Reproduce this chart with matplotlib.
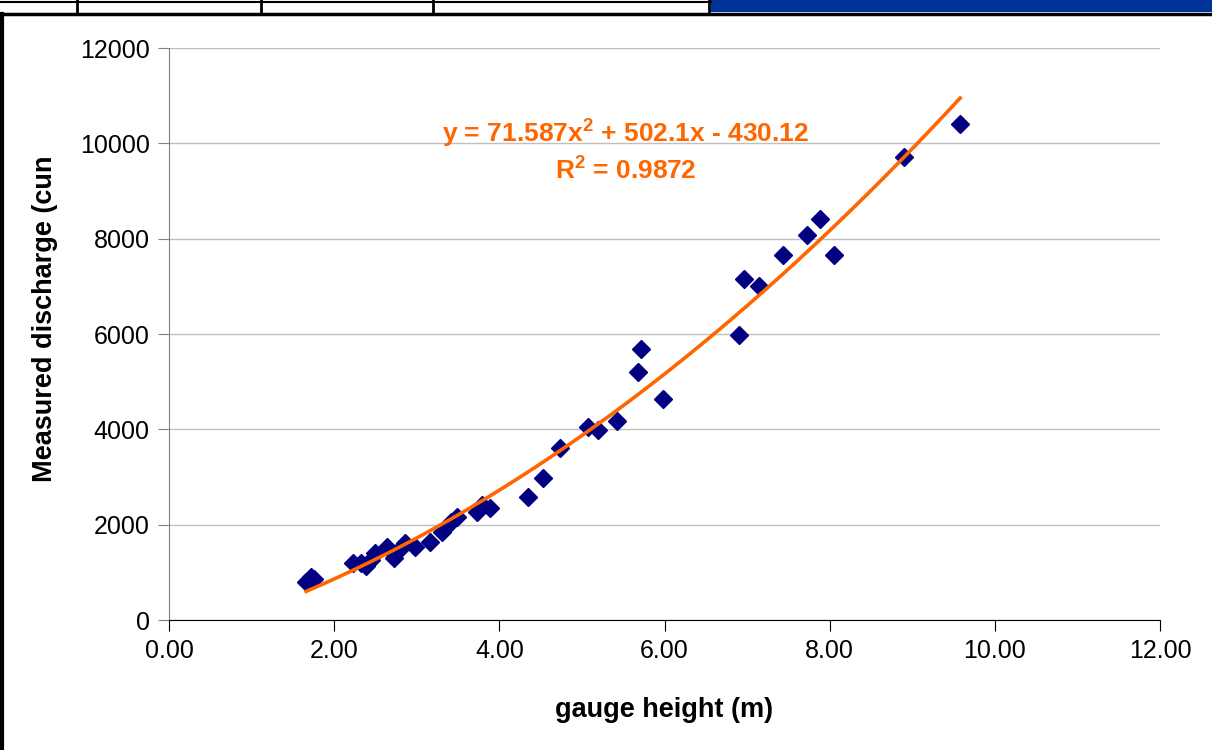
"""Rating curve: measured discharge vs gauge height with quadratic trendline."""
import matplotlib
matplotlib.use("Agg")
import matplotlib.pyplot as plt
import numpy as np
from matplotlib.lines import Line2D
from matplotlib.patches import Rectangle

gauge_height = [1.66, 1.72, 1.75, 2.23, 2.32, 2.38, 2.44, 2.50, 2.64, 2.72, 2.78,
                2.86, 2.98, 3.16, 3.31, 3.41, 3.49, 3.73, 3.79, 3.89, 4.35, 4.53,
                4.73, 5.07, 5.19, 5.42, 5.68, 5.71, 5.98, 6.90, 6.96, 7.15, 7.44,
                7.73, 7.88, 8.05, 8.90, 9.58]
discharge = [800, 900, 850, 1196, 1196, 1133, 1259, 1405, 1531, 1300, 1468,
             1615, 1531, 1636, 1846, 2056, 2161, 2266, 2420, 2350, 2580, 2979,
             3608, 4049, 3986, 4175, 5202, 5685, 4636, 5979, 7153, 7006, 7657,
             8076, 8412, 7657, 9713, 10405]

trend_coef = [71.587, 502.1, -430.12]
r_squared = 0.9872

x_ticks = [0, 2, 4, 6, 8, 10, 12]
y_ticks = [0, 2000, 4000, 6000, 8000, 10000, 12000]

NAVY = "#000080"
ORANGE = "#FF6600"

plt.rcParams["font.family"] = ["Liberation Sans", "DejaVu Sans"]
plt.rcParams["mathtext.fontset"] = "custom"
plt.rcParams["mathtext.bf"] = "Liberation Sans:bold"
plt.rcParams["mathtext.rm"] = "Liberation Sans:bold"

fig = plt.figure(figsize=(12.12, 7.5), dpi=100)
ax = fig.add_axes([169 / 1212, 1 - 620 / 750, (1160 - 169) / 1212, (620 - 48) / 750])

xs = np.linspace(min(gauge_height), max(gauge_height), 200)
ax.plot(xs, np.polyval(trend_coef, xs), color=ORANGE, linewidth=2.6, zorder=3)
ax.plot(gauge_height, discharge, linestyle="none", marker="D", markersize=9.5,
        color=NAVY, markeredgecolor=NAVY, zorder=2)

ax.set_xlim(0, 12)
ax.set_ylim(0, 12000)
ax.set_xticks(x_ticks)
ax.set_xticklabels([f"{v:.2f}" for v in x_ticks])
ax.set_yticks(y_ticks)
ax.grid(axis="y", color="#C0C0C0", linewidth=1.0)
ax.set_axisbelow(True)
ax.spines["top"].set_visible(False)
ax.spines["right"].set_visible(False)
ax.spines["left"].set_color("#808080")
ax.spines["bottom"].set_color("black")
ax.tick_params(axis="both", direction="out", length=8, labelsize=18, pad=6)
ax.tick_params(axis="y", color="#808080")

ax.set_xlabel("gauge height (m)", fontsize=19.5, fontweight="bold", labelpad=24)
ax.set_ylabel("Measured discharge (cun", fontsize=19.5, fontweight="bold")
ax.yaxis.set_label_coords(-0.112, 0.526)

a, b, c = trend_coef
sign = "-" if c < 0 else "+"
eq = rf"y = {a}x$^{{\mathbf{{2}}}}$ + {b}x {sign} {abs(c)}"
ax.text(5.53, 10216, eq, color=ORANGE, fontsize=19, fontweight="bold",
        ha="center", va="center")
ax.text(5.53, 9440, rf"R$^{{\mathbf{{2}}}}$ = {r_squared}", color=ORANGE, fontsize=19,
        fontweight="bold", ha="center", va="center")

# window frame around the chart
W, H = 1212, 750
fig.add_artist(Rectangle((711 / W, 1 - 12 / H), 1 - 711 / W, 12 / H,
                         transform=fig.transFigure, color="#003399", lw=0))
fig.add_artist(Line2D([0, 1], [1 - 14 / H, 1 - 14 / H], transform=fig.transFigure,
                      color="black", linewidth=2.5))
fig.add_artist(Line2D([0, 711 / W], [1 - 2 / H, 1 - 2 / H], transform=fig.transFigure,
                      color="black", linewidth=1.5))
for px in [77, 261, 433, 709]:
    fig.add_artist(Line2D([px / W, px / W], [1 - 14 / H, 1], transform=fig.transFigure,
                          color="black", linewidth=2))
fig.add_artist(Line2D([1.5 / W, 1.5 / W], [0, 1 - 14 / H], transform=fig.transFigure,
                      color="black", linewidth=3))

fig.savefig("out.png", dpi=100)
